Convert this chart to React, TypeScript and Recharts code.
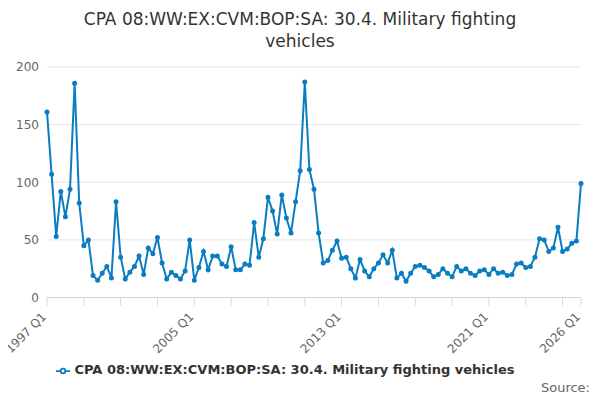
import React from 'react'
import { CartesianGrid, Legend, Line, LineChart, XAxis, YAxis } from 'recharts'

const values = [
  161, 107, 53, 92, 70, 94, 186, 82, 45, 50, 19, 15, 21, 27, 17, 83,
  35, 16, 22, 27, 36, 20, 43, 38, 52, 30, 16, 22, 19, 16, 23, 50,
  15, 26, 40, 24, 36, 36, 29, 27, 44, 24, 24, 29, 28, 65, 35, 51,
  87, 75, 55, 89, 69, 56, 83, 110, 187, 111, 94, 56, 30, 32, 41, 49,
  34, 35, 25, 17, 33, 23, 18, 25, 30, 37, 30, 41, 17, 21, 14, 21,
  27, 28, 26, 23, 18, 20, 25, 21, 18, 27, 23, 25, 21, 19, 23, 24,
  20, 25, 21, 22, 19, 20, 29, 30, 26, 27, 35, 51, 50, 40, 43, 61,
  40, 42, 47, 49, 99,
]
const startYear = 1997
const shownLabels = ['1997 Q1', '2005 Q1', '2013 Q1', '2021 Q1', '2026 Q1']
const yTicks = [0, 50, 100, 150, 200]
const seriesName = 'CPA 08:WW:EX:CVM:BOP:SA: 30.4. Military fighting vehicles'

const data = values.map((v, i) => ({
  quarter: `${startYear + Math.floor(i / 4)} Q${(i % 4) + 1}`,
  value: v,
}))
const xTicks = data.filter((_, i) => i % 8 === 0 || i === data.length - 1).map(d => d.quarter)

const AngledTick = (props: any) => {
  const { x, y, payload } = props
  if (!shownLabels.includes(payload.value)) return null
  return (
    <text x={x} y={y + 10} transform={`rotate(-45 ${x} ${y + 10})`} textAnchor="end" fontSize={12} fill="#666">
      {payload.value}
    </text>
  )
}

const App = () => {
  return (
    <div style={{ position: 'relative', width: 600, height: 400, margin: -8, fontFamily: 'DejaVu Sans, sans-serif' }}>
      <div style={{ position: 'absolute', top: 8, left: 0, width: 600, textAlign: 'center', fontSize: 17, lineHeight: '22px', color: '#333' }}>
        CPA 08:WW:EX:CVM:BOP:SA: 30.4. Military fighting<br />vehicles
      </div>
      <LineChart width={600} height={400} data={data} margin={{ top: 67, right: 19, left: 0, bottom: 42 }}>
        <CartesianGrid vertical={false} stroke="#e6e6e6" />
        <XAxis
          dataKey="quarter"
          ticks={xTicks}
          interval={0}
          tick={<AngledTick />}
          stroke="#ccd6eb"
          tickSize={8}
          height={45}
        />
        <YAxis
          width={47}
          domain={[0, 200]}
          ticks={yTicks}
          axisLine={false}
          tickLine={false}
          tick={{ fontSize: 12, fill: '#666' }}
        />
        <Legend
          verticalAlign="bottom"
          wrapperStyle={{ top: 362, fontSize: 13, fontWeight: 'bold' }}
          formatter={(v: string) => <span style={{ color: '#333' }}>{v}</span>}
        />
        <Line
          name={seriesName}
          dataKey="value"
          type="linear"
          stroke="#0a7dc2"
          strokeWidth={2}
          dot={{ r: 1.5, fill: '#0a7dc2', stroke: '#0a7dc2' }}
          isAnimationActive={false}
        />
      </LineChart>
      <div style={{ position: 'absolute', right: 10, top: 380, fontSize: 13, color: '#666' }}>Source:</div>
    </div>
  )
}

export default App
